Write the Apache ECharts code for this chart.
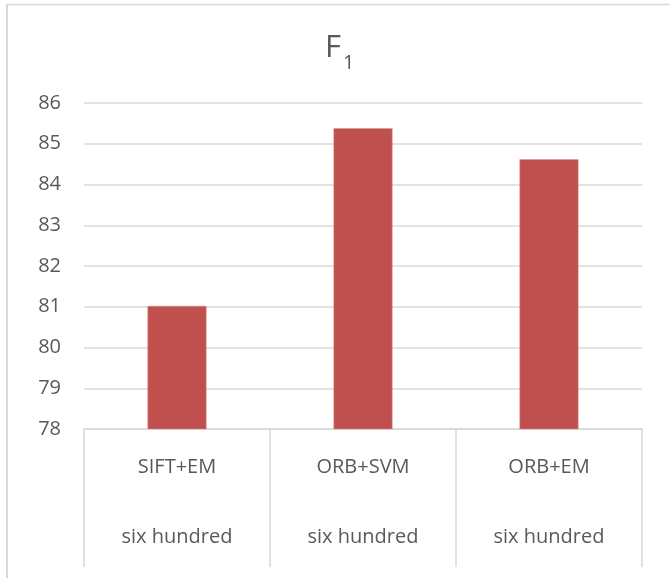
<!DOCTYPE html>
<html>
<head>
<meta charset="utf-8">
<script src="https://cdn.jsdelivr.net/npm/echarts@6/dist/echarts.min.js"></script>
<style>
html,body{margin:0;padding:0;background:#fff;}
#chart{width:670px;height:578px;}
</style>
</head>
<body>
<div id="chart"></div>
<script>
const categories = ['SIFT+EM', 'ORB+SVM', 'ORB+EM'];
const groupLabel = 'six hundred';
const f1Values = [81.02, 85.38, 84.62];
const yTicks = { min: 78, max: 86, interval: 1 };
const titleMain = 'F';
const titleSub = '1';

const FONT = '"Open Sans", Lato, sans-serif';
const TEXT = '#595959';
const LINE = '#d9d9d9';

const chart = echarts.init(document.getElementById('chart'), null, { renderer: 'canvas' });
chart.setOption({
  animation: false,
  backgroundColor: '#fff',
  graphic: [
    { type: 'line', shape: { x1: 6, y1: 4.5, x2: 670, y2: 4.5 }, style: { stroke: LINE, lineWidth: 1.5 }, silent: true },
    { type: 'line', shape: { x1: 7, y1: 4, x2: 7, y2: 578 }, style: { stroke: LINE, lineWidth: 2 }, silent: true },
    { type: 'text', left: 325, top: 33, style: { text: titleMain, font: 'normal 31px ' + FONT, fill: TEXT }, silent: true },
    { type: 'text', left: 343, top: 53, style: { text: titleSub, font: 'normal 20px ' + FONT, fill: TEXT }, silent: true }
  ],
  grid: { left: 84, right: 28, top: 103, bottom: 149, containLabel: false },
  xAxis: {
    type: 'category',
    data: categories,
    boundaryGap: true,
    axisLine: { show: true, lineStyle: { color: LINE, width: 1.5 } },
    axisTick: { show: true, length: 138, alignWithLabel: false, lineStyle: { color: LINE, width: 1.5 } },
    axisLabel: {
      margin: 21,
      interval: 0,
      fontFamily: FONT,
      fontSize: 20,
      color: TEXT,
      lineHeight: 35,
      formatter: function (v) { return v + '\n\n' + groupLabel; }
    },
    splitLine: { show: false }
  },
  yAxis: {
    type: 'value',
    min: yTicks.min,
    max: yTicks.max,
    interval: yTicks.interval,
    axisLine: { show: false },
    axisTick: { show: false },
    axisLabel: { margin: 23, fontFamily: FONT, fontSize: 20, color: TEXT },
    splitLine: { lineStyle: { color: LINE, width: 1.5 } }
  },
  series: [{
    type: 'bar',
    data: f1Values,
    barWidth: 59,
    itemStyle: { color: '#c0504d', borderColor: '#d99694', borderWidth: 0.5 }
  }]
});
</script>
</body>
</html>
